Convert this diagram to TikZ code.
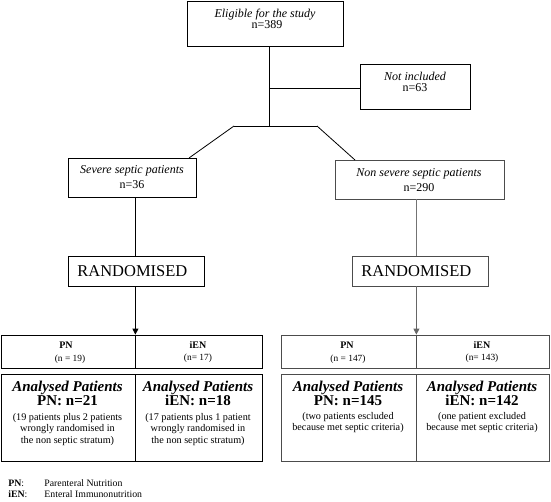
\documentclass[tikz,border=0pt]{standalone}
\usepackage{fontspec}
\setmainfont{Liberation Serif}
\usetikzlibrary{arrows.meta}
\begin{document}
\begin{tikzpicture}[x=1pt,y=-1pt,line width=0.8pt,
  box/.style={draw,rectangle,inner sep=0pt},
  gbox/.style={box,draw=black!70},
  tx/.style={anchor=base,inner sep=0pt,font=\fontsize{12}{14}\selectfont},
  rtx/.style={anchor=base west,inner sep=0pt,font=\fontsize{16.5}{18}\selectfont},
  lab/.style={anchor=base,inner sep=0pt,font=\fontsize{10}{12}\selectfont\bfseries},
  cnt/.style={anchor=base,inner sep=0pt,font=\fontsize{9.4}{11}\selectfont},
  big/.style={anchor=base,inner sep=0pt,font=\fontsize{15}{15}\selectfont\bfseries},
  sml/.style={anchor=base,inner sep=0pt,font=\fontsize{10.2}{12}\selectfont},
  leg/.style={anchor=base west,inner sep=0pt,font=\fontsize{9.8}{10}\selectfont},
  arr/.style={-{Triangle[width=6pt,length=6pt]}}]
\useasboundingbox (0,0) rectangle (551,502);

% ---- boxes
\node[box,minimum width=156pt,minimum height=45pt] (elig) at (265,23.5) {};
\node[box,minimum width=110pt,minimum height=45pt] (notinc) at (415,86.5) {};
\node[box,minimum width=128pt,minimum height=39pt] (severe) at (132,177.5) {};
\node[gbox,minimum width=169pt,minimum height=39pt] (nonsev) at (419.5,179.5) {};
\node[box,minimum width=136pt,minimum height=30pt] (rand1) at (136,271) {};
\node[gbox,minimum width=136pt,minimum height=30pt] (rand2) at (420,271) {};

\node[box,minimum width=134pt,minimum height=33pt] (lpn) at (68,351.5) {};
\node[box,minimum width=127pt,minimum height=33pt] (lien) at (198.5,351.5) {};
\node[box,minimum width=134pt,minimum height=87pt] (lapn) at (68,417.5) {};
\node[box,minimum width=127pt,minimum height=87pt] (laien) at (198.5,417.5) {};
\node[gbox,minimum width=135pt,minimum height=33pt] (rpn) at (348.5,351.5) {};
\node[gbox,minimum width=133pt,minimum height=33pt] (rien) at (482.5,351.5) {};
\node[gbox,minimum width=135pt,minimum height=87pt] (rapn) at (348.5,417.5) {};
\node[gbox,minimum width=133pt,minimum height=87pt] (raien) at (482.5,417.5) {};

% ---- texts in boxes
\node[tx] (e1) at (265,17.5) {\textit{Eligible for the study}};
\node[tx] (e2) at (267,28.5) {n=389};
\node[tx] (n1) at (415,80.5) {\textit{Not included}};
\node[tx] (n2) at (415,91.5) {n=63};
\node[tx] (s1) at (132,174) {\textit{Severe septic patients}};
\node[tx] (s2) at (132,189) {n=36};
\node[tx] (ns1) at (419,177) {\textit{Non severe septic patients}};
\node[tx] (ns2) at (419,192) {n=290};
\node[rtx] (r1) at (77,277) {RANDOMISED};
\node[rtx] (r2) at (361,277) {RANDOMISED};

% header row
\node[lab] (h1) at (66,348.5) {PN};
\node[cnt] (h1c) at (70,361.5) {(n = 19)};
\node[lab] (h2) at (198,348) {iEN};
\node[cnt] (h2c) at (198,360.5) {(n= 17)};
\node[lab] (h3) at (347,348) {PN};
\node[cnt] (h3c) at (348,361) {(n = 147)};
\node[lab] (h4) at (482,348) {iEN};
\node[cnt] (h4c) at (482,360.5) {(n= 143)};

% analysed row
\node[big] (a1) at (67.5,391) {\textit{Analysed Patients}};
\node[big] (a1n) at (67.5,405) {PN: n=21};
\node[sml] (a1s1) at (67.5,420) {(19 patients plus 2 patients};
\node[sml] (a1s2) at (67.5,431.5) {wrongly randomised in};
\node[sml] (a1s3) at (67.5,443) {the non septic stratum)};

\node[big] (a2) at (198,391) {\textit{Analysed Patients}};
\node[big] (a2n) at (198,405) {iEN: n=18};
\node[sml] (a2s1) at (198,420) {(17 patients plus 1 patient};
\node[sml] (a2s2) at (198,431.5) {wrongly randomised in};
\node[sml] (a2s3) at (198,443) {the non septic stratum)};

\node[big] (a3) at (348,391) {\textit{Analysed Patients}};
\node[big] (a3n) at (348,405) {PN: n=145};
\node[sml] (a3s1) at (348,419) {(two patients escluded};
\node[sml] (a3s2) at (348,430.5) {because met septic criteria)};

\node[big] (a4) at (482,391) {\textit{Analysed Patients}};
\node[big] (a4n) at (482,405) {iEN: n=142};
\node[sml] (a4s1) at (482,419) {(one patient excluded};
\node[sml] (a4s2) at (482,430.5) {because met septic criteria)};

% ---- connectors
\coordinate (j1) at (269,88);
\coordinate (j2) at (269,126);
\coordinate (bl) at (234,126);
\coordinate (br) at (317,126);
\coordinate (sl) at (189,158);
\coordinate (sr) at (355,160);
\draw (elig.south -| j1) -- (j2);
\draw (j1) -- (notinc.west |- j1);
\draw (bl) -- (br);
\draw (bl) -- (sl);
\draw (br) -- (sr);
\draw (severe.south -| lpn.north east) -- (rand1.north -| lpn.north east);
\draw[arr] (rand1.south -| lpn.north east) -- (lpn.north east);
\draw[black!55] (nonsev.south -| rpn.north east) -- (rand2.north -| rpn.north east);
\draw[arr,black!60] (rand2.south -| rpn.north east) -- (rpn.north east);

% ---- legend
\node[leg] (l1) at (8,486.5) {\textbf{PN}:};
\node[leg] (l1d) at (44,486.5) {Parenteral Nutrition};
\node[leg] (l2) at (8,497.5) {\textbf{iEN}:};
\node[leg] (l2d) at (44,497.5) {Enteral Immunonutrition};
\end{tikzpicture}
\end{document}
